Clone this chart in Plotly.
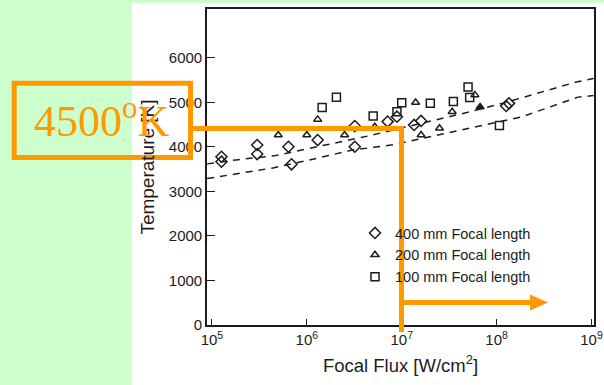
import plotly.graph_objects as go

# ---------------- data ----------------
d400_flux = [1.26e5, 1.26e5, 3.0e5, 3.0e5, 6.4e5, 6.9e5, 1.3e6, 3.2e6, 3.2e6,
             7.1e6, 8.9e6, 1.35e7, 1.6e7, 1.26e8, 1.35e8]
d400_temp = [3780, 3670, 4045, 3840, 4005, 3610, 4155, 4470, 4005,
             4570, 4680, 4495, 4585, 4920, 4980]

t200_flux = [5.0e5, 1.0e6, 1.3e6, 2.5e6, 5.2e6, 1.4e7, 1.6e7, 2.5e7, 3.4e7, 5.9e7, 6.7e7]
t200_temp = [4270, 4270, 4620, 4270, 4455, 5000, 4270, 4420, 4790, 5170, 4900]
t200_filled = [False, False, False, False, False, False, False, False, False, False, True]

s100_flux = [1.45e6, 2.05e6, 5.0e6, 8.9e6, 1.0e7, 2.0e7, 3.5e7, 5.0e7, 5.2e7, 1.07e8]
s100_temp = [4885, 5115, 4695, 4790, 4995, 4980, 5020, 5345, 5110, 4480]

upper_flux = [0.89e5, 1.8e5, 4.5e5, 1.9e6, 4.5e6, 5.2e7, 1.2e8, 6.9e8, 1.05e9]
upper_temp = [3620, 3710, 3800, 4090, 4250, 4790, 4990, 5460, 5540]

lower_flux = [0.89e5, 4.4e5, 1.3e6, 3.0e6, 8.1e6, 3.9e7, 1.8e8, 7.2e8, 1.05e9]
lower_temp = [3290, 3530, 3750, 3930, 4050, 4360, 4670, 5120, 5155]

x_tickvals = [1e5, 1e6, 1e7, 1e8, 1e9]
x_ticktext = ["10<sup>5</sup>", "10<sup>6</sup>", "10<sup>7</sup>", "10<sup>8</sup>", "10<sup>9</sup>"]
y_tickvals = [0, 1000, 2000, 3000, 4000, 5000, 6000]

legend_names = ["400 mm Focal length", "200 mm Focal length", "100 mm Focal length"]
note_text = "4500<sup>o</sup>K"

# ---------------- figure ----------------
INK = "#1c1c1c"
ORANGE = "#FF9900"
FONT = "Liberation Sans, Arial, sans-serif"

W, H = 604, 385
L, R, T, B = 207, 10, 9, 60
PW, PH = W - L - R, H - T - B


def px(x):
    return (x - L) / PW


def py(y):
    return (H - B - y) / PH


fig = go.Figure()

for fx, ty in ((upper_flux, upper_temp), (lower_flux, lower_temp)):
    fig.add_trace(go.Scatter(x=fx, y=ty, mode="lines", showlegend=False,
                             line=dict(color=INK, width=1.5, dash="7px,6px"),
                             hoverinfo="skip"))

fig.add_trace(go.Scatter(x=d400_flux, y=d400_temp, mode="markers", name=legend_names[0],
                         marker=dict(symbol="diamond-open", size=8.5, color=INK,
                                     line=dict(width=1.5, color=INK))))
fig.add_trace(go.Scatter(x=t200_flux, y=t200_temp, mode="markers", name=legend_names[1],
                         marker=dict(symbol=["triangle-up" if f else "triangle-up-open" for f in t200_filled],
                                     size=7, color=INK,
                                     line=dict(width=1.5, color=INK))))
fig.add_trace(go.Scatter(x=s100_flux, y=s100_temp, mode="markers", name=legend_names[2],
                         marker=dict(symbol="square-open", size=8, color=INK,
                                     line=dict(width=1.5, color=INK))))

shapes = [
    # white slide panel
    dict(type="rect", xref="paper", yref="paper", layer="below",
         x0=px(132), x1=px(604), y0=py(385), y1=py(3),
         fillcolor="white", line=dict(width=0)),
    # orange box around the label
    dict(type="rect", xref="paper", yref="paper",
         x0=px(14.2), x1=px(190.5), y0=py(157.5), y1=py(83.3),
         line=dict(color=ORANGE, width=5)),
    # horizontal line from box to the flux
    dict(type="line", xref="paper", yref="paper",
         x0=px(190.5), x1=px(404), y0=py(128.5), y1=py(128.5),
         line=dict(color=ORANGE, width=5)),
    # vertical drop
    dict(type="line", xref="paper", yref="paper",
         x0=px(401.5), x1=px(401.5), y0=py(126), y1=py(332),
         line=dict(color=ORANGE, width=5)),
    # arrow shaft
    dict(type="line", xref="paper", yref="paper",
         x0=px(401.5), x1=px(532), y0=py(302.5), y1=py(302.5),
         line=dict(color=ORANGE, width=5)),
    # arrow head
    dict(type="path", xref="paper", yref="paper",
         path=f"M {px(530)} {py(294.5)} L {px(548)} {py(302.5)} L {px(530)} {py(310.5)} Z",
         fillcolor=ORANGE, line=dict(color=ORANGE, width=0)),
]

annotations = [
    dict(text=note_text, xref="paper", yref="paper", x=px(101), y=py(119),
         xanchor="center", yanchor="middle", showarrow=False,
         font=dict(family="Liberation Serif, Times New Roman, serif", size=44, color=ORANGE)),
]

fig.update_layout(
    width=W, height=H, autosize=False,
    margin=dict(l=L, r=R, t=T, b=B, pad=0, autoexpand=False),
    paper_bgcolor="#CCFFCC", plot_bgcolor="white",
    font=dict(family=FONT, color=INK),
    shapes=shapes, annotations=annotations,
    showlegend=True,
    legend=dict(x=px(355), y=py(217), xanchor="left", yanchor="top",
                bgcolor="rgba(0,0,0,0)", borderwidth=0,
                font=dict(family=FONT, size=14.5, color=INK),
                tracegroupgap=0, itemwidth=30),
    xaxis=dict(type="log", range=[4.948, 9.026], automargin=False,
               tickvals=x_tickvals, ticktext=x_ticktext,
               ticklabeloverflow="allow",
               ticks="inside", ticklen=6, tickwidth=1.2, tickcolor=INK,
               showline=True, mirror=True, linecolor=INK, linewidth=1.6,
               showgrid=False, zeroline=False,
               tickfont=dict(family=FONT, size=15, color=INK),
               title=dict(text="Focal Flux [W/cm<sup>2</sup>]", standoff=12,
                          font=dict(family=FONT, size=18.5, color=INK))),
    yaxis=dict(range=[0, 7100], tickvals=y_tickvals, automargin=False,
               ticks="inside", ticklen=8, tickwidth=1.2, tickcolor=INK,
               showline=True, mirror=True, linecolor=INK, linewidth=1.6,
               showgrid=False, zeroline=False,
               tickfont=dict(family=FONT, size=15, color=INK),
               title=dict(text="Temperature [K]", standoff=9,
                          font=dict(family=FONT, size=19, color=INK))),
)

post = (
    "document.documentElement.style.overflow='hidden';"
    "document.body.style.margin='0px';"
    "document.body.style.overflow='hidden';"
)

fig.write_html("out.html", config={"displayModeBar": False}, post_script=post)
